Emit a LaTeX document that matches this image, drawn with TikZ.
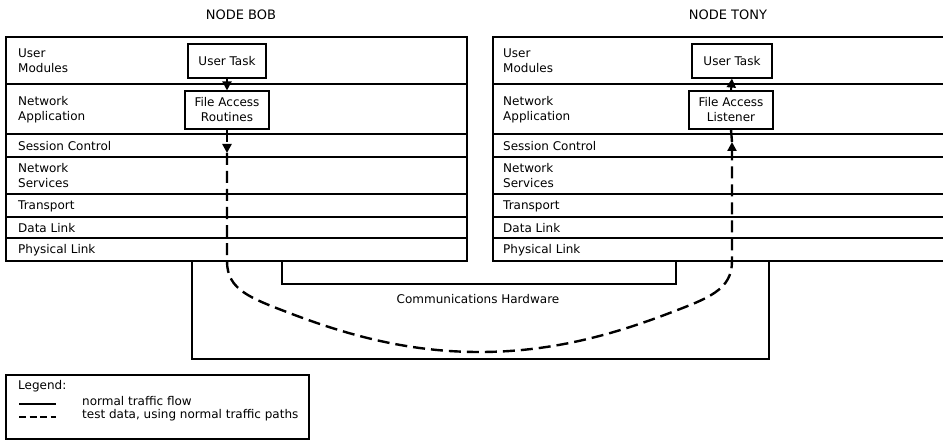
\documentclass[tikz,border=0pt]{standalone}
\usepackage{fontspec}
\setmainfont{DejaVu Sans}
\usetikzlibrary{arrows.meta}
\begin{document}
\begin{tikzpicture}[x=1pt,y=-1pt,
  every node/.style={font=\fontsize{12}{15}\selectfont},
  frame/.style={line width=1.1pt},
  lbl/.style={anchor=west, align=left, inner sep=0},
  taskbox/.style={draw, line width=1.1pt, align=center, inner sep=0},
  flow/.style={line width=2pt},
  testflow/.style={line width=2.4pt, dash pattern=on 12pt off 6pt},
  tip/.style={-{Triangle[length=9pt,width=9pt]}},
  header/.style={font=\fontsize{13}{15}\selectfont}]
\useasboundingbox (0,0) rectangle (943,441);

% headers
\node[header] (hbob) at (241,15) {NODE BOB};
\node[header] (htony) at (728,15) {NODE TONY};

% left stack
\draw[frame] (6,37) rectangle (467,261);
\foreach \y in {84,134,157,194,217,238} \draw[frame] (6,\y) -- (467,\y);
% right stack (open to the right)
\draw[frame] (943,37) -- (493,37) -- (493,261) -- (943,261);
\foreach \y in {84,134,157,194,217,238} \draw[frame] (493,\y) -- (943,\y);

% layer labels
\foreach \x/\s in {18/L,503/R}{
  \node[lbl] (um\s) at (\x,61) {User\\Modules};
  \node[lbl] (na\s) at (\x,110) {Network\\Application};
  \node[lbl] (sc\s) at (\x,146) {Session Control};
  \node[lbl] (ns\s) at (\x,176) {Network\\Services};
  \node[lbl] (tr\s) at (\x,206) {Transport};
  \node[lbl] (dl\s) at (\x,228) {Data Link};
  \node[lbl] (pl\s) at (\x,250) {Physical Link};
}

% task boxes
\node[taskbox, minimum width=78, minimum height=34] (utb) at (227,61) {User Task};
\node[taskbox, minimum width=84, minimum height=38] (frb) at (227,110) {File Access\\Routines};
\node[taskbox, minimum width=80, minimum height=34] (utt) at (732,61) {User Task};
\node[taskbox, minimum width=84, minimum height=38] (flt) at (731,110) {File Access\\Listener};

% normal flow arrows
\draw[flow, tip] (utb.south) -- (frb.north);
\draw[flow, tip] (flt.north) -- (utt.south);

% test data path
\coordinate (bobA) at (227,153);
\coordinate (bobB) at (227,261);
\coordinate (tonyA) at (732,142);
\coordinate (tonyB) at (732,261);
\draw[testflow, tip] (frb.south) -- (bobA);
\draw[testflow, tip] (bobA) -- (bobB)
  .. controls (227,290) and (250,298) .. (292,314)
  .. controls (350,336) and (410,352) .. (479.5,352)
  .. controls (549,352) and (609,336) .. (667,314)
  .. controls (709,298) and (732,290) .. (tonyB) -- (tonyA);
\draw[testflow] (tonyA) -- (flt.south);

% communications hardware
\coordinate (ohL) at (192,261);
\coordinate (ohR) at (769,261);
\coordinate (ihL) at (282,261);
\coordinate (ihR) at (676,261);
\draw[flow] (ohL) -- (192,359) -| (ohR);
\draw[flow] (ihL) -- (282,284) -| (ihR);
\node (ch) at (478,299) {Communications Hardware};

% legend
\draw[frame] (6,375) rectangle (309,439);
\node[lbl] (lg) at (18,386) {Legend:};
\coordinate (ls1) at (19,404);
\coordinate (le1) at (56,404);
\coordinate (ls2) at (19,417);
\coordinate (le2) at (56,417);
\draw[line width=1.4pt] (ls1) -- (le1);
\draw[line width=1.4pt, dash pattern=on 7pt off 3.5pt] (ls2) -- (le2);
\node[lbl] (ln) at (82,401) {normal traffic flow};
\node[lbl] (lt) at (82,415) {test data, using normal traffic paths};
\end{tikzpicture}
\end{document}
